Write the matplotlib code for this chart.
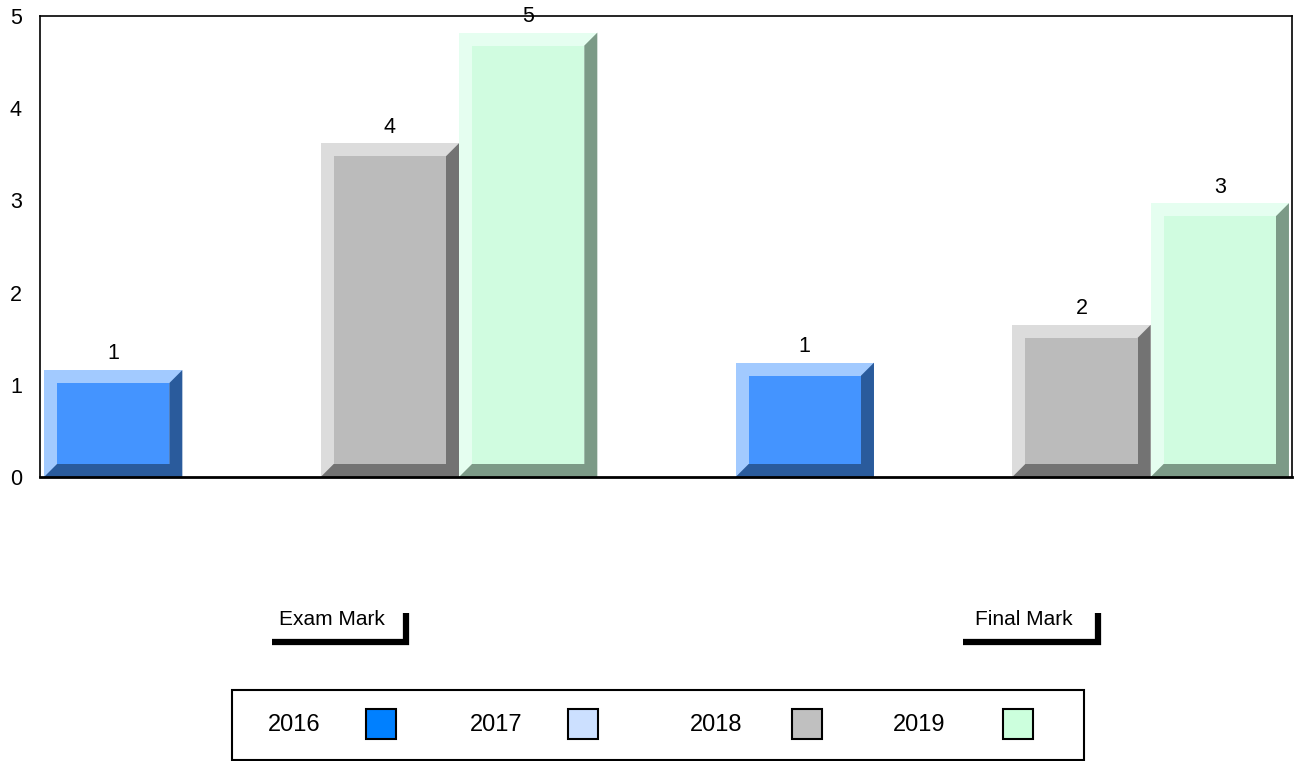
import matplotlib
matplotlib.use('Agg')
import matplotlib.pyplot as plt
from matplotlib.patches import Polygon, Rectangle
from matplotlib.transforms import blended_transform_factory

plt.rcParams['font.family'] = ['Liberation Sans', 'DejaVu Sans']

# ---------------- data ----------------
categories = ['Exam Mark', 'Final Mark']
series = ['2016', '2017', '2018', '2019']
values_2016 = [1.16, 1.24]
values_2017 = [0.0, 0.0]
values_2018 = [3.62, 1.65]
values_2019 = [4.82, 2.97]
labels_2016 = ['1', '1']
labels_2017 = ['', '']
labels_2018 = ['4', '2']
labels_2019 = ['5', '3']
yticks = [0, 1, 2, 3, 4, 5]

# ---------------- styles ----------------
face_colors = ['#4494FF', '#B8D4FF', '#BBBBBB', '#D0FCE0']
light_colors = ['#A2CAFF', '#DDEBFF', '#DCDCDC', '#E5FEF0']
dark_colors = ['#2A5B9C', '#7F93B0', '#737373', '#7C9A87']
legend_colors = ['#0080FF', '#CCE0FF', '#C0C0C0', '#CCFFDD']

W, H = 1294, 761
fig = plt.figure(figsize=(W / 100, H / 100), dpi=100)
ax = fig.add_axes([40 / W, 1 - 477 / H, (1292 - 40) / W, (477 - 16) / H])

all_values = [values_2016, values_2017, values_2018, values_2019]
all_labels = [labels_2016, labels_2017, labels_2018, labels_2019]
n_series = len(series)
group_step = n_series + 1

ax.set_xlim(-0.029, 9.022)
ax.set_ylim(0, 5)

# bevel size in data units (approx 13 px)
bx = 13 / 138.3
by = 13 / 92.2

for si in range(n_series):
    for gi in range(len(categories)):
        h = all_values[si][gi]
        if h <= 0:
            continue
        x0 = gi * group_step + si
        x1 = x0 + 1
        ax.bar(x0, h, width=1, align='edge', color=light_colors[si], linewidth=0, zorder=2)
        dark = Polygon([(x0, 0), (x1, 0), (x1, h), (x1 - bx, h - by), (x1 - bx, by), (x0 + bx, by)],
                       closed=True, facecolor=dark_colors[si], edgecolor='none', zorder=3)
        ax.add_patch(dark)
        inner = Rectangle((x0 + bx, by), 1 - 2 * bx, h - 2 * by, facecolor=face_colors[si],
                          edgecolor='none', zorder=4)
        ax.add_patch(inner)
        ax.annotate(all_labels[si][gi], (x0 + 0.5, h), xytext=(0, 4), textcoords='offset points',
                    ha='center', va='bottom', fontsize=15.5, color='black', zorder=6,
                    annotation_clip=False)

ax.set_yticks(yticks)
ax.set_yticklabels([str(t) for t in yticks], fontsize=15.5)
ax.set_xticks([])
ax.tick_params(axis='y', length=0, pad=13)
for s in ['left', 'top', 'right']:
    ax.spines[s].set_linewidth(1.2)
    ax.spines[s].set_color('black')
ax.spines['bottom'].set_linewidth(2.0)
ax.spines['bottom'].set_zorder(5)

# category labels with L-brackets
trans = blended_transform_factory(ax.transData, ax.transAxes)
for gi, cat in enumerate(categories):
    c = gi * group_step + n_series / 2
    ax.text(c + 0.08, -0.31, cat, transform=trans, ha='center', va='center', fontsize=15)
    ax.plot([c - 0.355, c + 0.62, c + 0.62], [-0.358, -0.358, -0.295], transform=trans,
            color='black', lw=4.5, clip_on=False, solid_capstyle='butt', solid_joinstyle='miter')

# legend box
def fx(px):
    return px / W

def fy(py):
    return 1 - py / H

fig.add_artist(Rectangle((fx(232), fy(760)), (1084 - 232) / W, 70 / H, transform=fig.transFigure,
                         fill=False, edgecolor='black', linewidth=1.5))
text_x = [268, 470, 690, 893]
sq_x = [366, 568, 792, 1003]
for i, name in enumerate(series):
    fig.text(fx(text_x[i]), fy(725), name, ha='left', va='center', fontsize=17)
    fig.add_artist(Rectangle((fx(sq_x[i]), fy(739)), 30 / W, 30 / H, transform=fig.transFigure,
                             facecolor=legend_colors[i], edgecolor='black', linewidth=1.5))

fig.savefig('out.png', dpi=100)
